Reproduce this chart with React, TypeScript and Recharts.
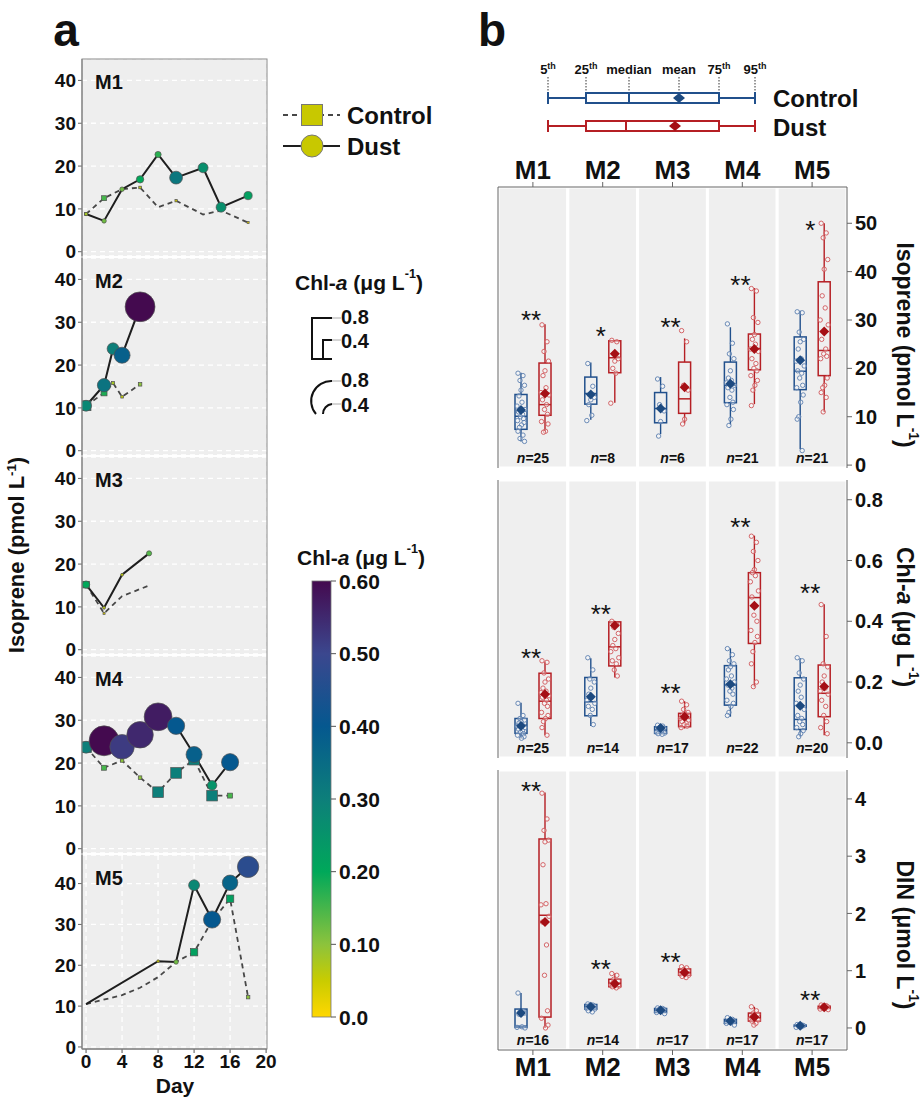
import React from "react";
import { Bar, CartesianGrid, ComposedChart, Line, ReferenceArea, XAxis, YAxis } from "recharts";

const FONT = "Arial, 'Liberation Sans', Helvetica, sans-serif";

// panel a: [day, isoprene (pmol L-1), chl-a (ug L-1)]
const M1_CONTROL = [[0, 8.8, 0.08], [2, 12.5, 0.15], [4, 14.6, 0.05], [6, 15.0, 0.06], [8, 10.4, 0], [10, 11.9, 0.04], [13, 8.7, 0], [15, 9.6, 0], [18, 6.8, 0.03]];
const M1_DUST = [[0, 8.8, 0.08], [2, 7.2, 0.12], [4, 14.6, 0.12], [6, 16.9, 0.2], [8, 22.7, 0.17], [10, 17.3, 0.32], [13, 19.6, 0.26], [15, 10.4, 0.26], [18, 13.1, 0.22]];
const M2_CONTROL = [[0, 10.5, 0.28], [2, 13.5, 0.18], [3, 15.8, 0.08], [4, 12.6, 0.06], [6, 15.5, 0.1]];
const M2_DUST = [[0, 10.5, 0.28], [2, 15.3, 0.33], [3, 23.8, 0.3], [4, 22.3, 0.38], [6, 33.6, 0.6]];
const M3_CONTROL = [[0, 15.2, 0.2], [2, 8.5, 0.03], [4, 12.5, 0], [7, 15.0, 0]];
const M3_DUST = [[0, 15.2, 0.2], [2, 9.8, 0.06], [4, 17.5, 0.06], [7, 22.5, 0.14]];
const M4_CONTROL = [[0, 23.7, 0.3], [2, 18.9, 0.15], [4, 20.6, 0.1], [6, 16.6, 0.1], [8, 13.2, 0.3], [10, 17.7, 0.3], [12, 20.8, 0.3], [14, 12.4, 0.3], [16, 12.4, 0.15]];
const M4_DUST = [[0, 23.7, 0.3], [2, 25.2, 0.6], [4, 23.8, 0.52], [6, 26.6, 0.55], [8, 30.8, 0.57], [10, 28.7, 0.4], [12, 22.0, 0.38], [14, 14.8, 0.25], [16, 20.2, 0.4]];
const M5_CONTROL = [[0, 10.5, 0.02], [4, 12.7, 0], [6, 14.5, 0], [8, 17.1, 0], [10, 20.8, 0], [12, 23.2, 0.22], [14, 30.9, 0], [16, 36.3, 0.22], [18, 12.2, 0.1]];
const M5_DUST = [[0, 10.5, 0.02], [8, 21.0, 0.05], [10, 20.8, 0.12], [12, 39.6, 0.28], [14, 31.2, 0.4], [16, 40.2, 0.37], [18, 44.1, 0.47]];

const DAY_TICKS = [0, 4, 8, 12, 16, 20];
const ISO_TICKS_A = [0, 10, 20, 30, 40];
const CB_TICKS = [0, 0.1, 0.2, 0.3, 0.4, 0.5, 0.6];

// colour ramp of the Chl-a colour bar
const CHL_STOPS: [number, string][] = [
  [0, "#ffd700"], [0.05, "#c9cc00"], [0.1, "#8cc33c"], [0.2, "#00a85a"],
  [0.3, "#0d7f7a"], [0.4, "#05588f"], [0.5, "#3b478e"], [0.6, "#440a4f"],
];

// panel b: [p5, q1, median, q3, p95, mean]
const METHODS = ["M1", "M2", "M3", "M4", "M5"];
const ISO_CONTROL = [[4.9, 7.4, 10.1, 14.6, 19.1, 11.4], [9.4, 12.6, 14.8, 18.2, 21.2, 14.6], [6.4, 8.75, 11.7, 15.0, 18.2, 11.7], [8.4, 12.9, 16.5, 21.3, 28.5, 16.8], [3.3, 15.6, 19.4, 26.5, 31.9, 21.7]];
const ISO_DUST = [[7.0, 10.3, 12.5, 21.1, 29.1, 14.8], [12.9, 19.1, 22.2, 25.7, 25.8, 23.0], [8.6, 10.7, 13.7, 21.3, 26.2, 16.1], [12.6, 19.7, 24.1, 27.1, 36.6, 24.0], [11.0, 18.5, 23.7, 37.9, 50.0, 27.6]];
const CHL_CONTROL = [[0.014, 0.031, 0.058, 0.08, 0.132, 0.055], [0.055, 0.089, 0.135, 0.215, 0.278, 0.152], [0.025, 0.031, 0.042, 0.053, 0.058, 0.049], [0.086, 0.124, 0.19, 0.254, 0.311, 0.193], [0.02, 0.044, 0.077, 0.214, 0.278, 0.122]];
const CHL_DUST = [[0.025, 0.08, 0.137, 0.229, 0.267, 0.16], [0.215, 0.253, 0.316, 0.398, 0.399, 0.386], [0.047, 0.053, 0.08, 0.097, 0.137, 0.086], [0.185, 0.327, 0.478, 0.56, 0.682, 0.451], [0.025, 0.086, 0.163, 0.256, 0.456, 0.185]];
const DIN_CONTROL = [[0.0, 0.01, 0.03, 0.33, 0.61, 0.26], [0.28, 0.33, 0.37, 0.41, 0.42, 0.37], [0.25, 0.27, 0.31, 0.34, 0.35, 0.31], [0.05, 0.08, 0.12, 0.15, 0.18, 0.12], [0.01, 0.03, 0.04, 0.05, 0.06, 0.04]];
const DIN_DUST = [[0.0, 0.19, 1.97, 3.3, 4.11, 1.85], [0.7, 0.72, 0.78, 0.85, 0.95, 0.77], [0.88, 0.92, 0.97, 1.03, 1.07, 0.97], [0.05, 0.12, 0.18, 0.26, 0.37, 0.19], [0.32, 0.34, 0.36, 0.38, 0.4, 0.36]];

// individual samples
const ISO_CONTROL_PTS = [
  [19.0, 18.5, 17.5, 16.5, 15.5, 14.3, 13.0, 12.2, 11.5, 11.0, 10.5, 10.0, 9.6, 9.2, 8.8, 8.3, 7.8, 7.0, 6.2, 5.5, 4.9],
  [21.0, 16.3, 14.5, 14.0, 13.5, 12.5, 10.3, 9.2],
  [17.8, 16.3, 12.5, 11.2, 9.0, 6.0],
  [29.2, 25.2, 23.0, 22.0, 19.5, 18.0, 17.5, 17.0, 16.5, 16.0, 15.5, 14.0, 13.0, 12.5, 11.5, 9.5, 8.2],
  [31.7, 31.5, 27.5, 26.0, 25.5, 24.0, 22.0, 21.5, 20.5, 19.5, 19.0, 18.0, 16.5, 16.0, 14.5, 13.0, 10.0, 9.5, 3.0],
];
const ISO_DUST_PTS = [
  [29.0, 25.5, 23.5, 21.5, 19.5, 18.5, 16.0, 15.0, 14.5, 13.5, 12.5, 11.5, 10.5, 9.0, 8.5, 7.0, 6.8],
  [25.8, 25.5, 23.0, 22.0, 21.5, 20.0, 19.0, 12.8],
  [27.8, 25.5, 16.5, 15.5, 9.5, 8.5],
  [36.5, 36.0, 30.5, 29.5, 27.0, 26.0, 25.0, 24.0, 23.5, 22.0, 21.0, 20.0, 19.5, 18.5, 17.5, 16.5, 15.5, 12.3],
  [50.0, 48.0, 47.0, 42.5, 40.5, 35.0, 32.5, 30.0, 29.0, 26.0, 24.0, 23.0, 22.5, 22.0, 18.0, 16.5, 16.0, 15.0, 14.0, 11.0],
];
const CHL_CONTROL_PTS = [
  [0.13, 0.09, 0.08, 0.075, 0.07, 0.065, 0.06, 0.055, 0.05, 0.045, 0.04, 0.035, 0.03, 0.025, 0.02, 0.015],
  [0.28, 0.24, 0.21, 0.2, 0.18, 0.16, 0.15, 0.14, 0.13, 0.12, 0.11, 0.09, 0.06],
  [0.058, 0.055, 0.05, 0.048, 0.045, 0.042, 0.04, 0.035, 0.032, 0.03, 0.028],
  [0.31, 0.29, 0.27, 0.26, 0.25, 0.24, 0.22, 0.21, 0.2, 0.19, 0.18, 0.17, 0.16, 0.14, 0.13, 0.12, 0.1, 0.09],
  [0.28, 0.27, 0.23, 0.21, 0.19, 0.17, 0.15, 0.13, 0.11, 0.09, 0.08, 0.07, 0.06, 0.05, 0.04, 0.03, 0.02],
];
const CHL_DUST_PTS = [
  [0.27, 0.265, 0.23, 0.21, 0.2, 0.18, 0.17, 0.165, 0.155, 0.15, 0.14, 0.13, 0.12, 0.1, 0.09, 0.08, 0.07, 0.05, 0.025],
  [0.4, 0.39, 0.38, 0.36, 0.34, 0.32, 0.31, 0.3, 0.28, 0.27, 0.26, 0.24, 0.22],
  [0.137, 0.125, 0.11, 0.1, 0.095, 0.09, 0.085, 0.08, 0.075, 0.07, 0.065, 0.06, 0.055, 0.05],
  [0.68, 0.66, 0.63, 0.6, 0.57, 0.56, 0.55, 0.53, 0.5, 0.48, 0.45, 0.42, 0.4, 0.37, 0.35, 0.33, 0.3, 0.26, 0.2, 0.185],
  [0.455, 0.35, 0.26, 0.25, 0.22, 0.2, 0.18, 0.17, 0.16, 0.14, 0.12, 0.09, 0.07, 0.05, 0.03],
];
const DIN_CONTROL_PTS = [
  [0.61, 0.3, 0.28, 0.26, 0.25, 0.24, 0.02, 0.01, 0.0],
  [0.42, 0.4, 0.39, 0.38, 0.37, 0.36, 0.35, 0.34, 0.33, 0.3, 0.28],
  [0.35, 0.34, 0.33, 0.32, 0.31, 0.3, 0.29, 0.27, 0.25],
  [0.18, 0.15, 0.13, 0.12, 0.11, 0.1, 0.09, 0.08, 0.05],
  [0.06, 0.05, 0.045, 0.04, 0.035, 0.03, 0.02, 0.01],
];
const DIN_DUST_PTS = [
  [4.1, 3.65, 3.45, 3.28, 3.25, 2.85, 2.17, 2.15, 1.95, 1.85, 1.45, 0.92, 0.3, 0.17, 0.05, 0.0],
  [0.95, 0.92, 0.85, 0.82, 0.8, 0.78, 0.76, 0.75, 0.73, 0.72, 0.7],
  [1.07, 1.05, 1.02, 1.0, 0.98, 0.97, 0.95, 0.94, 0.92, 0.9, 0.88],
  [0.37, 0.3, 0.26, 0.24, 0.22, 0.2, 0.18, 0.16, 0.14, 0.12, 0.08, 0.05],
  [0.4, 0.39, 0.38, 0.37, 0.36, 0.35, 0.34, 0.33, 0.32],
];

const N_ISO = [25, 8, 6, 21, 21];
const N_CHL = [25, 14, 17, 22, 20];
const N_DIN = [16, 14, 17, 17, 17];
const SIG_ISO = ["**", "*", "**", "**", "*"];
const SIG_ISO_Y = [31.2, 27.9, 29.8, 38.5, 49.8];
const SIG_CHL = ["**", "**", "**", "**", "**"];
const SIG_CHL_Y = [0.3, 0.443, 0.185, 0.729, 0.514];
const SIG_DIN = ["**", "**", "**", "", "**"];
const SIG_DIN_Y = [4.24, 1.13, 1.26, 0, 0.59];

const CTRL = { line: "#21508c", mean: "#1d4a80", pt: "#5b7fb0" };
const DUST = { line: "#b51f24", mean: "#a50f15", pt: "#d0575a" };
const JIT = [-3, 2, -1, 3.5, 0, -2, 1, -4, 4, -2.5, 1.5, -0.5, 2.5, -3.5, 3, 0.5, -1.5];

function hexRgb(h: string) {
  return [1, 3, 5].map((i) => parseInt(h.slice(i, i + 2), 16));
}

function chlColor(v: number) {
  const x = Math.max(0, Math.min(0.6, v));
  for (let i = 1; i < CHL_STOPS.length; i++) {
    const [v1, c1] = CHL_STOPS[i];
    if (x <= v1) {
      const [v0, c0] = CHL_STOPS[i - 1];
      const t = (x - v0) / (v1 - v0);
      const a = hexRgb(c0);
      const b = hexRgb(c1);
      return `rgb(${a.map((q, k) => Math.round(q + (b[k] - q) * t)).join(",")})`;
    }
  }
  return CHL_STOPS[CHL_STOPS.length - 1][1];
}

const markerR = (chl: number) => 1 + 30 * Math.pow(chl, 1.5);

const rows = (arr: number[][]) => arr.map(([day, iso, chl]) => ({ day, iso, chl }));

const circleDot = (p: any) => {
  const chl = p.payload.chl;
  if (chl < 0.03) return <g key={`c${p.index}`} />;
  return (
    <circle key={`c${p.index}`} cx={p.cx} cy={p.cy} r={markerR(chl)} fill={chlColor(chl)} stroke="#505050" strokeWidth={0.7} />
  );
};

const squareDot = (p: any) => {
  const chl = p.payload.chl;
  if (chl < 0.03) return <g key={`s${p.index}`} />;
  const h = markerR(chl) * 0.9;
  return (
    <rect key={`s${p.index}`} x={p.cx - h} y={p.cy - h} width={2 * h} height={2 * h} fill={chlColor(chl)} stroke="#505050" strokeWidth={0.7} />
  );
};

const PANELS_A = [
  { name: "M1", control: M1_CONTROL, dust: M1_DUST, top: 59, h: 197, domain: [-1, 45] },
  { name: "M2", control: M2_CONTROL, dust: M2_DUST, top: 258, h: 197, domain: [-1, 45] },
  { name: "M3", control: M3_CONTROL, dust: M3_DUST, top: 457, h: 197, domain: [-1, 45] },
  { name: "M4", control: M4_CONTROL, dust: M4_DUST, top: 656, h: 197, domain: [-1, 45] },
  { name: "M5", control: M5_CONTROL, dust: M5_DUST, top: 855, h: 194, domain: [-0.5, 47] },
];

const boldTick = (size: number) => ({ fill: "#111", fontSize: size, fontWeight: 700, fontFamily: FONT });

function IsoPanel({ p, last }: any) {
  const mt = 10;
  const xh = last ? 32 : 1;
  const mb = last ? 4 : 9;
  return (
    <div style={{ position: "absolute", left: 0, top: p.top - mt }}>
      <ComposedChart width={280} height={mt + p.h + xh + mb} margin={{ top: mt, right: 13, bottom: mb, left: 22 }}>
        <CartesianGrid fill="#eeeeee" fillOpacity={1} stroke="#ffffff" strokeWidth={1.3} strokeDasharray="5 4" />
        <XAxis
          type="number"
          dataKey="day"
          domain={[-0.45, 20.1]}
          ticks={DAY_TICKS}
          allowDataOverflow
          interval={0}
          height={xh}
          tick={last ? boldTick(19) : false}
          tickLine={last ? { stroke: "#555" } : false}
          axisLine={last ? { stroke: "#555" } : false}
          tickSize={4}
          tickMargin={2}
        />
        <YAxis
          type="number"
          domain={p.domain}
          ticks={ISO_TICKS_A}
          allowDataOverflow
          interval={0}
          width={60}
          tick={boldTick(19)}
          tickSize={4}
          tickMargin={2}
          axisLine={{ stroke: "#666" }}
          tickLine={{ stroke: "#666" }}
        />
        <Line data={rows(p.control)} dataKey="iso" type="linear" stroke="#474747" strokeWidth={1.8} strokeDasharray="5 4" dot={squareDot} activeDot={false} isAnimationActive={false} />
        <Line data={rows(p.dust)} dataKey="iso" type="linear" stroke="#1e1e1e" strokeWidth={2} dot={circleDot} activeDot={false} isAnimationActive={false} />
      </ComposedChart>
    </div>
  );
}

function boxShape(kind: "ctrl" | "dust", domain: number[]) {
  const c = kind === "ctrl" ? CTRL : DUST;
  return (p: any) => {
    const { x, y, width, height, payload, index } = p;
    const s: number[] = payload[kind];
    const pts: number[] = payload[kind + "Pts"];
    const t = Math.min(y, y + height);
    const b = Math.max(y, y + height);
    const py = (v: number) => b - ((v - s[0]) / (s[4] - s[0])) * (b - t);
    const cx = x + width / 2;
    const col = kind === "ctrl" ? cx + 12 : cx - 12;
    const my = py(s[5]);
    return (
      <g key={`${kind}${index}`}>
        <line x1={cx} x2={cx} y1={py(s[4])} y2={py(s[3])} stroke={c.line} strokeWidth={1.4} />
        <line x1={cx} x2={cx} y1={py(s[1])} y2={py(s[0])} stroke={c.line} strokeWidth={1.4} />
        <rect x={cx - 6} y={py(s[3])} width={12} height={py(s[1]) - py(s[3])} fill="none" stroke={c.line} strokeWidth={1.5} />
        <line x1={cx - 6} x2={cx + 6} y1={py(s[2])} y2={py(s[2])} stroke={c.line} strokeWidth={1.5} />
        {pts.map((v, i) => (
          <circle key={i} cx={cx + JIT[i % JIT.length]} cy={py(v)} r={2.2} fill="#ffffff" fillOpacity={0.35} stroke={c.pt} strokeWidth={0.9} />
        ))}
        <polygon points={`${cx},${my - 5} ${cx + 5},${my} ${cx},${my + 5} ${cx - 5},${my}`} fill={c.mean} />
        {kind === "ctrl" ? (
          <text x={col} y={py(domain[0]) - 5} textAnchor="middle" fontSize={14} fontWeight={700} fontFamily={FONT} fill="#111">
            <tspan fontStyle="italic">n</tspan>={payload.n}
          </text>
        ) : null}
        {kind === "dust" && payload.sig ? (
          <text x={col - 2} y={py(payload.sigY) + 15} textAnchor="middle" fontSize={26} fontFamily={FONT} fill="#111">
            {payload.sig}
          </text>
        ) : null}
      </g>
    );
  };
}

const ROWS_B = [
  { ctrl: ISO_CONTROL, dust: ISO_DUST, cp: ISO_CONTROL_PTS, dp: ISO_DUST_PTS, n: N_ISO, sig: SIG_ISO, sigY: SIG_ISO_Y, domain: [-0.6, 57.5], ticks: [0, 10, 20, 30, 40, 50], fmt: (v: number) => String(v), top: 187, h: 281, axis: "top" },
  { ctrl: CHL_CONTROL, dust: CHL_DUST, cp: CHL_CONTROL_PTS, dp: CHL_DUST_PTS, n: N_CHL, sig: SIG_CHL, sigY: SIG_CHL_Y, domain: [-0.05, 0.865], ticks: [0, 0.2, 0.4, 0.6, 0.8], fmt: (v: number) => v.toFixed(1), top: 480, h: 278, axis: "" },
  { ctrl: DIN_CONTROL, dust: DIN_DUST, cp: DIN_CONTROL_PTS, dp: DIN_DUST_PTS, n: N_DIN, sig: SIG_DIN, sigY: SIG_DIN_Y, domain: [-0.385, 4.505], ticks: [0, 1, 2, 3, 4], fmt: (v: number) => String(v), top: 770, h: 280, axis: "bottom" },
];

function BoxRow({ r }: any) {
  const data = METHODS.map((m, i) => ({
    m, ctrl: r.ctrl[i], dust: r.dust[i], ctrlPts: r.cp[i], dustPts: r.dp[i], n: r.n[i], sig: r.sig[i], sigY: r.sigY[i],
  }));
  const xh = r.axis ? 34 : 0;
  const mt = 12;
  const mb = 12;
  const chartTop = r.axis === "top" ? r.top - xh - mt : r.top - mt;
  return (
    <div style={{ position: "absolute", left: 488, top: chartTop }}>
      <ComposedChart width={414} height={mt + r.h + xh + mb} data={data} margin={{ top: mt, right: 5, bottom: mb, left: 10 }} barSize={12} barGap={12}>
        {METHODS.map((m) => (
          <ReferenceArea key={m} x1={m} x2={m} fill="#efefef" fillOpacity={1} stroke="#ffffff" strokeWidth={3} />
        ))}
        <XAxis
          dataKey="m"
          type="category"
          orientation={r.axis === "top" ? "top" : "bottom"}
          hide={!r.axis}
          height={xh || 30}
          interval={0}
          tick={boldTick(26)}
          tickSize={5}
          tickMargin={3}
          axisLine={{ stroke: "#666" }}
          tickLine={{ stroke: "#666" }}
        />
        <YAxis
          orientation="right"
          type="number"
          domain={r.domain}
          ticks={r.ticks}
          tickFormatter={r.fmt}
          allowDataOverflow
          interval={0}
          width={50}
          tick={boldTick(20)}
          tickSize={5}
          tickMargin={3}
          axisLine={{ stroke: "#666" }}
          tickLine={{ stroke: "#666" }}
        />
        <Bar dataKey={(d: any) => [d.ctrl[0], d.ctrl[4]]} shape={boxShape("ctrl", r.domain)} isAnimationActive={false} />
        <Bar dataKey={(d: any) => [d.dust[0], d.dust[4]]} shape={boxShape("dust", r.domain)} isAnimationActive={false} />
      </ComposedChart>
    </div>
  );
}

// unit with a raised "-1" and the closing text after it
const Unit = ({ fs, after }: any) => (
  <>
    <tspan dy={-fs * 0.38} fontSize={fs * 0.6}>-1</tspan>
    <tspan dy={fs * 0.38}>{after}</tspan>
  </>
);

function Overlay() {
  const cbTop = 581;
  const cbBot = 1017;
  const cbY = (v: number) => cbBot - (v / 0.6) * (cbBot - cbTop);
  const bold = { fontFamily: FONT, fontWeight: 700, fill: "#111" } as any;
  const schema = [
    { label: "5", sup: "th", x: 548 },
    { label: "25", sup: "th", x: 586 },
    { label: "median", sup: "", x: 629 },
    { label: "mean", sup: "", x: 679 },
    { label: "75", sup: "th", x: 719 },
    { label: "95", sup: "th", x: 755 },
  ];
  const schemaBox = (y: number, med: number, mean: number, col: any) => (
    <g>
      <line x1={548} x2={586} y1={y} y2={y} stroke={col.line} strokeWidth={2} />
      <line x1={719} x2={755} y1={y} y2={y} stroke={col.line} strokeWidth={2} />
      <line x1={548} x2={548} y1={y - 6} y2={y + 6} stroke={col.line} strokeWidth={2} />
      <line x1={755} x2={755} y1={y - 6} y2={y + 6} stroke={col.line} strokeWidth={2} />
      <rect x={586} y={y - 5} width={133} height={10} fill="#fff" stroke={col.line} strokeWidth={2} />
      <line x1={med} x2={med} y1={y - 5} y2={y + 5} stroke={col.line} strokeWidth={2} />
      <polygon points={`${mean},${y - 5} ${mean + 6},${y} ${mean},${y + 5} ${mean - 6},${y}`} fill={col.mean} />
    </g>
  );
  return (
    <svg width={921} height={1098} style={{ position: "absolute", left: 0, top: 0, pointerEvents: "none" }}>
      <defs>
        <linearGradient id="cbar" x1="0" y1="1" x2="0" y2="0">
          {CHL_STOPS.map(([v, c]) => (
            <stop key={v} offset={v / 0.6} stopColor={c} />
          ))}
        </linearGradient>
      </defs>
      <text x={66} y={46} textAnchor="middle" fontSize={46} {...bold}>a</text>
      <text x={492} y={46} textAnchor="middle" fontSize={46} {...bold}>b</text>

      {/* panel a frame and panel names */}
      <rect x={82} y={59} width={185} height={990} fill="none" stroke="#8a8a8a" strokeWidth={1} />
      {PANELS_A.map((p) => (
        <text key={p.name} x={95} y={p.top + 30} fontSize={20} {...bold}>{p.name}</text>
      ))}
      <text transform="translate(24,555) rotate(-90)" textAnchor="middle" fontSize={22} {...bold}>
        Isoprene (pmol L<Unit fs={22} after=")" />
      </text>
      <text x={175} y={1093} textAnchor="middle" fontSize={21} {...bold}>Day</text>

      {/* legend: treatments */}
      <line x1={283} x2={340} y1={115} y2={115} stroke="#474747" strokeWidth={2} strokeDasharray="5 4" />
      <rect x={301.5} y={104.5} width={21} height={21} fill="#c8c800" stroke="#777" strokeWidth={1} />
      <text x={347} y={115} dominantBaseline="central" fontSize={24} {...bold}>Control</text>
      <line x1={283} x2={340} y1={146} y2={146} stroke="#1e1e1e" strokeWidth={2} />
      <circle cx={312} cy={146} r={11} fill="#c8c800" stroke="#777" strokeWidth={1} />
      <text x={347} y={146} dominantBaseline="central" fontSize={24} {...bold}>Dust</text>

      {/* legend: marker size */}
      <text x={295} y={282} dominantBaseline="central" fontSize={21} {...bold}>
        Chl-<tspan fontStyle="italic">a</tspan> (μg L<Unit fs={21} after=")" />
      </text>
      <path d="M332,318 L312,318 L312,359 L332,359" fill="none" stroke="#111" strokeWidth={2} />
      <path d="M332,340 L323,340 L323,359 L332,359" fill="none" stroke="#111" strokeWidth={2} />
      <line x1={332} x2={341} y1={318} y2={318} stroke="#aaa" strokeWidth={1} />
      <line x1={332} x2={341} y1={340} y2={340} stroke="#aaa" strokeWidth={1} />
      <text x={341} y={317} dominantBaseline="central" fontSize={20} {...bold}>0.8</text>
      <text x={341} y={341} dominantBaseline="central" fontSize={20} {...bold}>0.4</text>
      <path d="M332,381 A20,20 0 0 0 316,414" fill="none" stroke="#111" strokeWidth={2} />
      <path d="M332,404 A10,10 0 0 0 323,414" fill="none" stroke="#111" strokeWidth={2} />
      <line x1={332} x2={341} y1={381} y2={381} stroke="#aaa" strokeWidth={1} />
      <line x1={332} x2={341} y1={404} y2={404} stroke="#aaa" strokeWidth={1} />
      <text x={341} y={380} dominantBaseline="central" fontSize={20} {...bold}>0.8</text>
      <text x={341} y={405} dominantBaseline="central" fontSize={20} {...bold}>0.4</text>

      {/* colour bar */}
      <text x={297} y={557} dominantBaseline="central" fontSize={21} {...bold}>
        Chl-<tspan fontStyle="italic">a</tspan> (μg L<Unit fs={21} after=")" />
      </text>
      <rect x={312} y={cbTop} width={19} height={cbBot - cbTop} fill="url(#cbar)" stroke="#777" strokeWidth={0.8} />
      {CB_TICKS.map((v) => (
        <g key={v}>
          <line x1={331} x2={336} y1={cbY(v)} y2={cbY(v)} stroke="#555" />
          <text x={339} y={cbY(v)} dominantBaseline="central" fontSize={21} {...bold}>
            {v === 0 ? "0.0" : v.toFixed(2)}
          </text>
        </g>
      ))}

      {/* panel b box legend */}
      {schema.map((s) => (
        <g key={s.label}>
          <text x={s.x} y={74} textAnchor="middle" fontSize={13} {...bold}>
            {s.label}
            {s.sup ? <tspan dy={-5} fontSize={9}>{s.sup}</tspan> : null}
          </text>
          <line x1={s.x} x2={s.x} y1={77} y2={93} stroke="#333" strokeWidth={1} strokeDasharray="1.5 1.5" />
        </g>
      ))}
      {schemaBox(98, 629, 679, CTRL)}
      {schemaBox(126, 626, 675, DUST)}
      <text x={773} y={98} dominantBaseline="central" fontSize={24} {...bold}>Control</text>
      <text x={773} y={127} dominantBaseline="central" fontSize={24} {...bold}>Dust</text>

      {/* panel b left frame */}
      {ROWS_B.map((r, i) => (
        <line key={i} x1={498} x2={498} y1={r.top} y2={r.top + r.h} stroke="#666" strokeWidth={1} />
      ))}
      <text transform="translate(905,345) rotate(90)" textAnchor="middle" dominantBaseline="central" fontSize={23} {...bold}>
        Isoprene (pmol L<Unit fs={23} after=")" />
      </text>
      <text transform="translate(905,617) rotate(90)" textAnchor="middle" dominantBaseline="central" fontSize={23} {...bold}>
        Chl-<tspan fontStyle="italic">a</tspan> (μg L<Unit fs={23} after=")" />
      </text>
      <text transform="translate(905,935) rotate(90)" textAnchor="middle" dominantBaseline="central" fontSize={23} {...bold}>
        DIN (μmol L<Unit fs={23} after=")" />
      </text>
    </svg>
  );
}

export default function App() {
  return (
    <div style={{ position: "absolute", left: 0, top: 0, width: 921, height: 1098, background: "#fff", fontFamily: FONT }}>
      {PANELS_A.map((p, i) => (
        <IsoPanel key={p.name} p={p} last={i === PANELS_A.length - 1} />
      ))}
      {ROWS_B.map((r, i) => (
        <BoxRow key={i} r={r} />
      ))}
      <Overlay />
    </div>
  );
}
